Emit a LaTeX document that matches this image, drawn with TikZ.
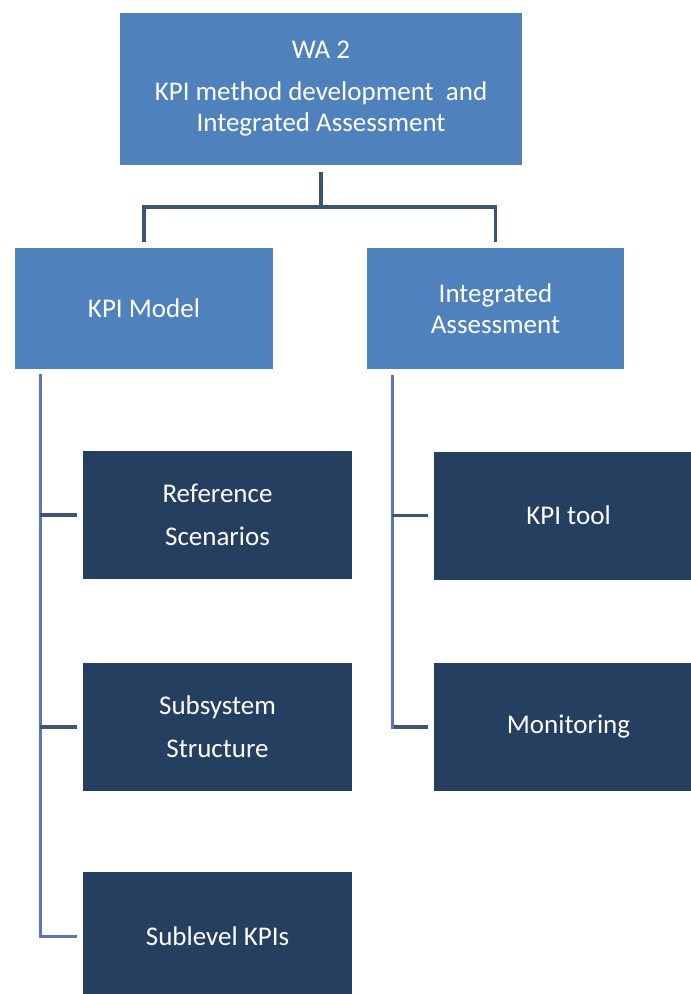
\documentclass[tikz,border=0pt]{standalone}
\usepackage{fontspec}
\setmainfont{Carlito}
\usetikzlibrary{positioning}

\definecolor{midblue}{HTML}{4F81BD}
\definecolor{navy}{HTML}{243F60}
\definecolor{linedark}{HTML}{3D5573}
\definecolor{linelight}{HTML}{5C76B3}

\tikzset{
  headbox/.style={fill=midblue, text=white, inner sep=0pt, align=center,
    font=\fontsize{27}{31}\selectfont},
  taskbox/.style={fill=navy, text=white, inner sep=0pt, align=center,
    minimum width=269pt, minimum height=128pt, font=\fontsize{27}{43}\selectfont},
  topline/.style={draw=linedark, line width=3.5pt},
  spine/.style={draw=linelight, line width=3pt},
  tick/.style={draw=linedark, line width=3.5pt}
}

\begin{document}
\begin{tikzpicture}[x=1pt, y=-1pt]
    \clip (0,0) rectangle (691,994);

    % Work area
    \node[headbox, minimum width=402pt, minimum height=152pt] (wa) at (321,89)
        {WA 2\\[11pt]KPI method development\ \ and\\Integrated Assessment};

    % Two branches
    \node[headbox, minimum width=258pt, minimum height=121pt] (kpimodel) at (144,308.5) {KPI Model};
    \node[headbox, minimum width=257pt, minimum height=121pt] (intassess) at (495.5,308.5) {Integrated\\Assessment};
    \coordinate (fork) at (321,207);
    \draw[topline] ([yshift=-7pt]wa.south) -- (fork);
    \draw[topline] ([yshift=6pt]kpimodel.north) |- (fork) -| ([yshift=6pt]intassess.north);

    % KPI Model tasks
    \node[taskbox] (refscen) at (217.5,515) {Reference\\Scenarios};
    \node[taskbox] (subsys) at (217.5,727) {Subsystem\\Structure};
    \node[taskbox] (sublevel) at (217.5,936) {Sublevel KPIs};
    \coordinate (lspine) at (40,374);
    \draw[spine] (lspine) |- ([xshift=-6pt]sublevel.west);
    \foreach \n in {refscen, subsys}
        \draw[tick] (lspine |- \n.west) -- ([xshift=-6pt]\n.west);

    % Integrated Assessment tasks
    \node[taskbox] (kpitool) at (568.5,515.5) {KPI tool};
    \node[taskbox] (monitor) at (568.5,727) {Monitoring};
    \coordinate (rspine) at (392,375);
    \draw[spine] (rspine) |- ([xshift=-6pt]monitor.west);
    \draw[tick] (rspine |- kpitool.west) -- ([xshift=-6pt]kpitool.west);
    \draw[tick] ([xshift=2pt]rspine |- monitor.west) -- ([xshift=-6pt]monitor.west);
\end{tikzpicture}
\end{document}
